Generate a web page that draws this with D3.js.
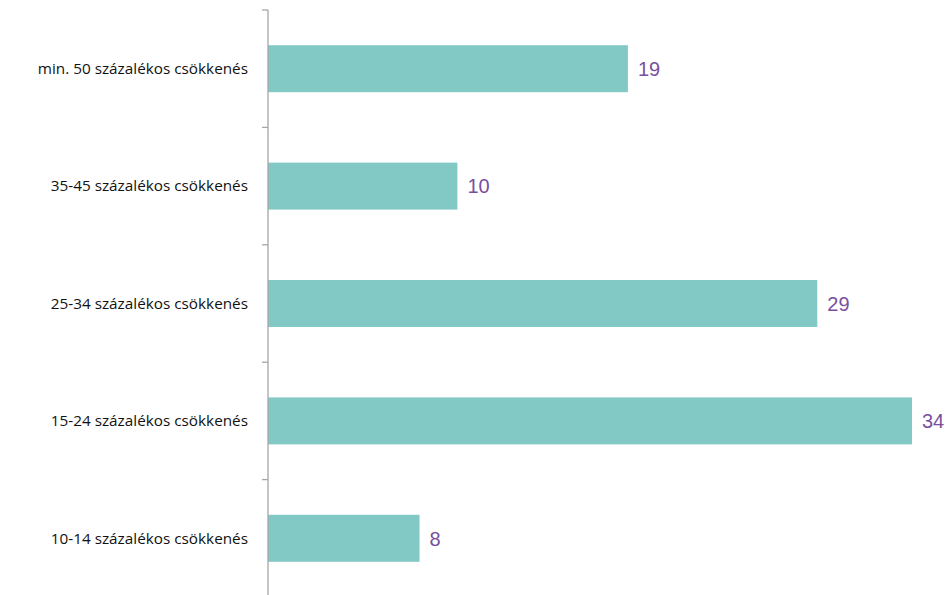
<html>
<head>
<meta charset="utf-8">
<script src="https://d3js.org/d3.v7.min.js"></script>
</head>
<body style="margin:0;background:#fff">
<svg width="945" height="595"></svg>
<script>
var categories = ["min. 50 százalékos csökkenés", "35-45 százalékos csökkenés", "25-34 százalékos csökkenés", "15-24 százalékos csökkenés", "10-14 százalékos csökkenés"];
var values = [19, 10, 29, 34, 8];

var svg = d3.select("svg");
var left = 268;

var y = d3.scaleBand()
  .domain(categories)
  .range([10, 597])
  .paddingInner(0.6)
  .paddingOuter(0.3);

var x = d3.scaleLinear()
  .domain([0, 34])
  .range([left, 912]);

// bars
svg.append("g")
  .selectAll("rect")
  .data(categories)
  .enter().append("rect")
  .attr("x", x(0))
  .attr("y", function (d) { return y(d); })
  .attr("width", function (d, i) { return x(values[i]) - x(0); })
  .attr("height", y.bandwidth())
  .attr("fill", "#82c9c6");

// axis line + ticks between bands
var ticks = d3.range(categories.length + 1).map(function (i) { return 10 + i * (587 / categories.length); });
var ax = svg.append("g").attr("stroke", "#a6a6a6").attr("stroke-width", 1.3);
ax.append("line").attr("x1", left).attr("x2", left).attr("y1", 10).attr("y2", 597);
ax.selectAll("line.t").data(ticks).enter().append("line")
  .attr("class", "t")
  .attr("x1", left - 6).attr("x2", left)
  .attr("y1", function (d) { return d; }).attr("y2", function (d) { return d; });

// category labels
svg.append("g")
  .selectAll("text")
  .data(categories)
  .enter().append("text")
  .attr("x", 248)
  .attr("y", function (d) { return y(d) + y.bandwidth() / 2; })
  .attr("dy", "0.35em")
  .attr("text-anchor", "end")
  .attr("font-family", "Open Sans, sans-serif")
  .attr("font-size", 15.3)
  .attr("fill", "#111")
  .text(function (d) { return d; });

// value labels
svg.append("g")
  .selectAll("text")
  .data(categories)
  .enter().append("text")
  .attr("x", function (d, i) { return x(values[i]) + 10; })
  .attr("y", function (d) { return y(d) + y.bandwidth() / 2; })
  .attr("dy", "0.36em")
  .attr("font-family", "Liberation Sans, Arial, sans-serif")
  .attr("font-size", 20)
  .attr("fill", "#7a4f9f")
  .text(function (d, i) { return values[i]; });
</script>
</body>
</html>
